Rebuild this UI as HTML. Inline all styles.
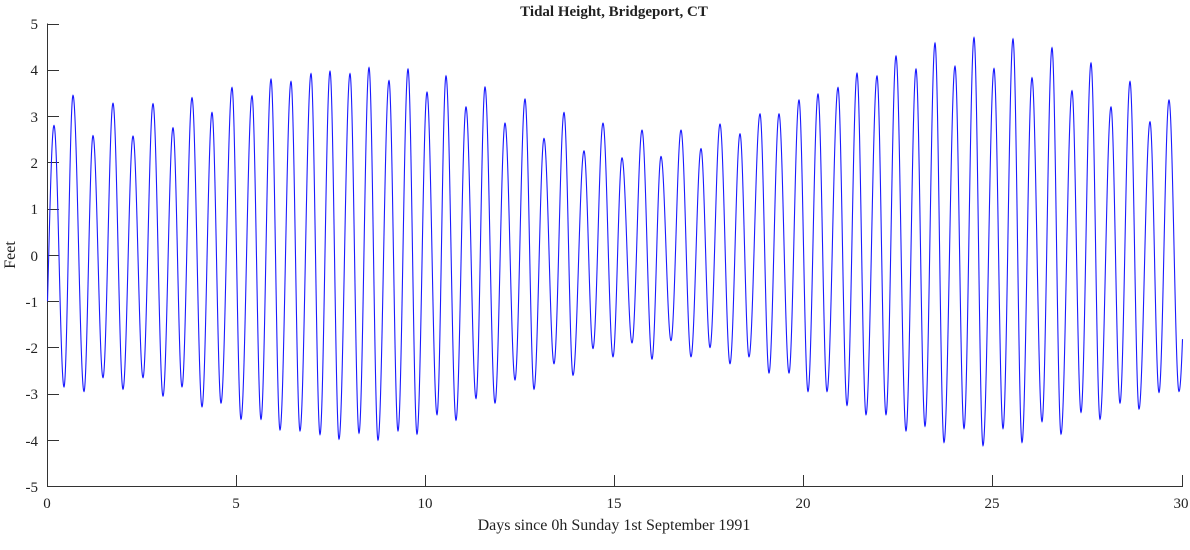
<!DOCTYPE html>
<html><head><meta charset="utf-8"><style>
html,body{margin:0;padding:0;background:#fff;}
svg text{font-family:"Liberation Serif",serif;fill:#222;}
</style></head><body>
<svg id="s" width="1190" height="545" xmlns="http://www.w3.org/2000/svg">
<text x="614" y="16" font-size="15" font-weight="bold" text-anchor="middle" fill="#000">Tidal Height, Bridgeport, CT</text>
<g font-size="15" text-anchor="end">
<text x="38" y="29">5</text><text x="38" y="75">4</text><text x="38" y="122">3</text><text x="38" y="168">2</text><text x="38" y="214">1</text><text x="38" y="261">0</text><text x="38" y="307">-1</text><text x="38" y="353">-2</text><text x="38" y="399">-3</text><text x="38" y="446">-4</text><text x="38" y="492">-5</text>
</g>
<g font-size="15" text-anchor="middle">
<text x="47" y="508">0</text><text x="236" y="508">5</text><text x="425" y="508">10</text><text x="614" y="508">15</text><text x="803" y="508">20</text><text x="992" y="508">25</text><text x="1181" y="508">30</text>
</g>
<text x="614" y="530" font-size="16" text-anchor="middle">Days since 0h Sunday 1st September 1991</text>
<text transform="translate(15,255) rotate(-90)" font-size="16" text-anchor="middle">Feet</text>
<g stroke="#333" stroke-width="1" fill="none">
<path d="M47.5 23.5V486.5H1182.5V475"/>
<path id="yt" d=""/>
<path d="M236.5 486V475M425.5 486V475M614.5 486V475M803.5 486V475M992.5 486V475"/>
</g>
<path id="c" fill="none" stroke="#1a1aff" stroke-width="1.1"/>
</svg>
<script>
var yt="";for(var i=0;i<=10;i++){var y=Math.round(23.5+i*46.25)+0.5;yt+="M47 "+y+"H59";}
document.getElementById("yt").setAttribute("d",yt);
var P=[[54,2.8],[73,3.45],[93,2.58],[113,3.28],[133,2.57],[153,3.27],[173,2.75],[192,3.4],[212,3.08],[232,3.62],[252,3.44],[271,3.8],[291,3.75],[311,3.92],[330,3.97],[350,3.92],[369,4.05],[389,3.77],[408,4.02],[427,3.52],[446,3.87],[466,3.2],[485,3.63],[505,2.85],[525,3.37],[544,2.52],[564,3.08],[584,2.25],[603,2.85],[622,2.1],[642,2.7],[661,2.13],[681,2.7],[701,2.3],[720,2.83],[740,2.62],[760,3.05],[779,3.05],[799,3.35],[818,3.48],[838,3.62],[857,3.93],[877,3.87],[896,4.3],[916,4.02],[935,4.58],[955,4.08],[974,4.7],[994,4.03],[1013,4.67],[1032,3.83],[1052,4.48],[1072,3.55],[1091,4.15],[1111,3.2],[1130,3.75],[1150,2.88],[1169,3.35]];
var T=[[64,-2.85],[84,-2.95],[103,-2.65],[123,-2.9],[143,-2.65],[163,-3.05],[182,-2.85],[202,-3.28],[221,-3.2],[241,-3.55],[261,-3.55],[280,-3.78],[300,-3.8],[320,-3.88],[339,-3.98],[359,-3.85],[378,-4.0],[398,-3.8],[417,-3.87],[437,-3.45],[456,-3.57],[476,-3.1],[495,-3.2],[515,-2.7],[534,-2.9],[554,-2.35],[573,-2.6],[593,-2.02],[613,-2.2],[632,-1.9],[652,-2.25],[671,-1.85],[691,-2.2],[710,-2.0],[730,-2.35],[749,-2.2],[769,-2.55],[789,-2.55],[808,-2.95],[827,-2.95],[847,-3.25],[866,-3.45],[886,-3.45],[906,-3.8],[925,-3.7],[944,-4.05],[964,-3.75],[983,-4.12],[1003,-3.75],[1022,-4.05],[1042,-3.6],[1061,-3.87],[1081,-3.4],[1100,-3.55],[1120,-3.2],[1139,-3.33],[1159,-2.97],[1179,-2.95]];
var E=[];for(var i=0;i<P.length;i++){E.push(P[i]);E.push(T[i]);}
function Y(v){return 255-v*46.25;}
var d="";
var x0=47.5,x1=E[0][0],v1=E[0][1],lo=-2.85;
for(var x=x0;x<=x1;x+=0.25){var f=(x-x0)/(x1-x0);var ph=Math.PI*(0.388+0.612*f);var v=lo+(v1-lo)*(1-Math.cos(ph))/2;d+=(d?"L":"M")+x.toFixed(2)+" "+Y(v).toFixed(2);}
for(var i=0;i<E.length-1;i++){var a=E[i],b=E[i+1];for(var k=1;k<=40;k++){var f=k/40;var x=a[0]+(b[0]-a[0])*f;var v=a[1]+(b[1]-a[1])*(1-Math.cos(Math.PI*f))/2;d+="L"+x.toFixed(2)+" "+Y(v).toFixed(2);}}
var a=E[E.length-1];var nx=a[0]+12.4,nv=3.2;
for(var x=a[0];x<=1182.5;x+=0.25){var f=(x-a[0])/(nx-a[0]);var v=a[1]+(nv-a[1])*(1-Math.cos(Math.PI*f))/2;d+="L"+x.toFixed(2)+" "+Y(v).toFixed(2);}
document.getElementById("c").setAttribute("d",d);
</script>
</body></html>
